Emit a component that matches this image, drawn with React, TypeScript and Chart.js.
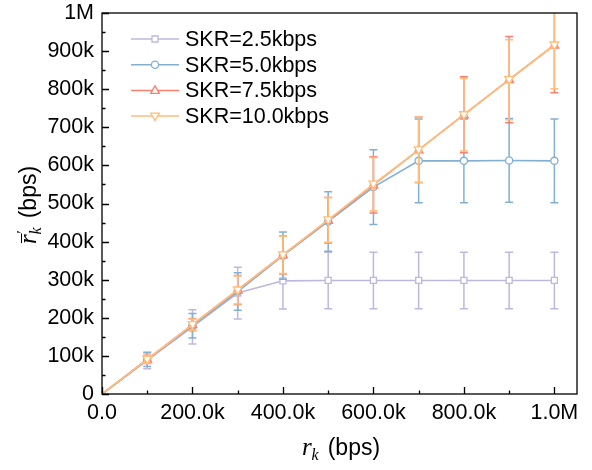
import React, { useEffect, useRef } from "react";
import { Chart, registerables } from "chart.js";

Chart.register(...registerables);

const xValues = [0, 100000, 200000, 300000, 400000, 500000, 600000, 700000, 800000, 900000, 1000000];

const seriesNames = ["SKR=2.5kbps", "SKR=5.0kbps", "SKR=7.5kbps", "SKR=10.0kbps"];
const seriesColors = ["#BEB8DC", "#82B0D2", "#FA7F6F", "#FFBE7A"];
const seriesMarkers = ["square", "circle", "triangle", "triangleDown"];

const skr25 = [0, 88000, 176000, 265000, 297000, 298000, 298000, 298000, 298000, 298000, 298000];
const skr25Err = [0, 22000, 45000, 68000, 74000, 74000, 74000, 74000, 74000, 74000, 74000];
const skr50 = [0, 90000, 179000, 269000, 363000, 453000, 543000, 612000, 612000, 613000, 612000];
const skr50Err = [0, 18000, 32000, 49000, 62000, 78000, 98000, 110000, 110000, 110000, 110000];
const skr75 = [0, 91000, 182000, 273000, 365000, 456000, 549000, 641000, 733000, 825000, 916000];
const skr75Err = [0, 11000, 16000, 38000, 50000, 60000, 74000, 86000, 100000, 113000, 125000];
const skr10 = [0, 91000, 182000, 273000, 365000, 457000, 551000, 641000, 733000, 825000, 916000];
const skr10Err = [0, 10000, 15000, 37000, 49000, 59000, 70000, 86000, 95000, 105000, 115000];

const seriesValues = [skr25, skr50, skr75, skr10];
const seriesErrors = [skr25Err, skr50Err, skr75Err, skr10Err];

const xTickValues = [0, 200000, 400000, 600000, 800000, 1000000];
const xTickLabels = ["0.0", "200.0k", "400.0k", "600.0k", "800.0k", "1.0M"];
const yTickValues = [0, 100000, 200000, 300000, 400000, 500000, 600000, 700000, 800000, 900000, 1000000];
const yTickLabels = ["0", "100k", "200k", "300k", "400k", "500k", "600k", "700k", "800k", "900k", "1M"];

const SANS = "'Liberation Sans', Arial, sans-serif";
const SERIF = "'Liberation Serif', 'Times New Roman', serif";

function drawMarker(ctx: CanvasRenderingContext2D, kind: string, x: number, y: number, color: string) {
  ctx.save();
  ctx.fillStyle = "#ffffff";
  ctx.strokeStyle = color;
  ctx.lineWidth = 1.3;
  ctx.beginPath();
  if (kind === "square") {
    ctx.rect(x - 3, y - 3, 6, 6);
  } else if (kind === "circle") {
    ctx.arc(x, y, 3.6, 0, Math.PI * 2);
  } else if (kind === "triangle") {
    ctx.moveTo(x, y - 4.5);
    ctx.lineTo(x + 4.3, y + 3);
    ctx.lineTo(x - 4.3, y + 3);
    ctx.closePath();
  } else {
    ctx.moveTo(x, y + 4.5);
    ctx.lineTo(x + 4.3, y - 3);
    ctx.lineTo(x - 4.3, y - 3);
    ctx.closePath();
  }
  ctx.fill();
  ctx.stroke();
  ctx.restore();
}

const errorBarPlugin = {
  id: "errorBars",
  beforeDatasetDraw(chart: any, args: any) {
    const i = args.index;
    const vals = seriesValues[i];
    const errs = seriesErrors[i];
    const { ctx, chartArea } = chart;
    const xs = chart.scales.x;
    const ys = chart.scales.y;
    ctx.save();
    ctx.beginPath();
    ctx.rect(chartArea.left, chartArea.top, chartArea.right - chartArea.left, chartArea.bottom - chartArea.top);
    ctx.clip();
    ctx.strokeStyle = seriesColors[i];
    ctx.lineWidth = 1.5;
    xValues.forEach((xv, j) => {
      if (errs[j] <= 0) return;
      const px = xs.getPixelForValue(xv);
      const top = ys.getPixelForValue(vals[j] + errs[j]);
      const bot = ys.getPixelForValue(vals[j] - errs[j]);
      ctx.beginPath();
      ctx.moveTo(px, top);
      ctx.lineTo(px, bot);
      ctx.moveTo(px - 4, top);
      ctx.lineTo(px + 4, top);
      ctx.moveTo(px - 4, bot);
      ctx.lineTo(px + 4, bot);
      ctx.stroke();
    });
    ctx.restore();
  },
};

const markerPlugin = {
  id: "markers",
  afterDatasetDraw(chart: any, args: any) {
    const i = args.index;
    const vals = seriesValues[i];
    const { ctx, chartArea } = chart;
    const xs = chart.scales.x;
    const ys = chart.scales.y;
    ctx.save();
    ctx.beginPath();
    ctx.rect(chartArea.left, chartArea.top, chartArea.right - chartArea.left, chartArea.bottom - chartArea.top);
    ctx.clip();
    xValues.forEach((xv, j) => {
      if (j === 0) return;
      drawMarker(ctx, seriesMarkers[i], xs.getPixelForValue(xv), ys.getPixelForValue(vals[j]), seriesColors[i]);
    });
    ctx.restore();
  },
};

const framePlugin = {
  id: "frame",
  afterDraw(chart: any) {
    const { ctx, chartArea } = chart;
    const xs = chart.scales.x;
    const ys = chart.scales.y;
    const { left, right, top, bottom } = chartArea;
    ctx.save();
    ctx.strokeStyle = "#000000";
    ctx.lineWidth = 1.3;
    ctx.strokeRect(left, top, right - left, bottom - top);
    ctx.beginPath();
    for (let v = 0; v <= 1000000; v += 100000) {
      const px = Math.round(xs.getPixelForValue(v)) + 0.5;
      const len = v % 200000 === 0 ? 7 : 3.5;
      ctx.moveTo(px, bottom);
      ctx.lineTo(px, bottom - len);
    }
    for (let v = 0; v <= 1000000; v += 50000) {
      const py = Math.round(ys.getPixelForValue(v)) + 0.5;
      const len = v % 100000 === 0 ? 7 : 3.5;
      ctx.moveTo(left, py);
      ctx.lineTo(left + len, py);
    }
    ctx.stroke();

    // legend
    const lx0 = 131;
    const lx1 = 179;
    seriesNames.forEach((name, i) => {
      const y = 39 + i * 25.7;
      ctx.strokeStyle = seriesColors[i];
      ctx.lineWidth = 1.5;
      ctx.beginPath();
      ctx.moveTo(lx0, y);
      ctx.lineTo(lx1, y);
      ctx.stroke();
      drawMarker(ctx, seriesMarkers[i], (lx0 + lx1) / 2, y, seriesColors[i]);
      ctx.fillStyle = "#000000";
      ctx.font = `21.5px ${SANS}`;
      ctx.textAlign = "left";
      ctx.textBaseline = "middle";
      ctx.fillText(name, 185, y + 1);
    });

    const drawTitle = (withBar: boolean) => {
      ctx.textAlign = "left";
      ctx.textBaseline = "alphabetic";
      ctx.fillStyle = "#000000";
      const rFont = `italic 25px ${SERIF}`;
      const kFont = `italic 16px ${SERIF}`;
      const bFont = `23px ${SANS}`;
      ctx.font = rFont;
      const rW = ctx.measureText("r").width;
      ctx.font = kFont;
      const kW = ctx.measureText("k").width;
      ctx.font = bFont;
      const bW = ctx.measureText("(bps)").width;
      const gap = 7;
      const total = rW + kW + 2 + gap + bW;
      let x = -total / 2;
      ctx.font = rFont;
      ctx.fillText("r", x, 0);
      if (withBar) {
        ctx.strokeStyle = "#000";
        ctx.lineWidth = 1;
        ctx.beginPath();
        ctx.moveTo(x + 1, -14.5);
        ctx.lineTo(x + rW + 1, -14.5);
        ctx.stroke();
        ctx.font = `italic 15px ${SERIF}`;
        ctx.fillText("\u2032", x + rW, -9);
      }
      x += rW;
      ctx.font = kFont;
      ctx.fillText("k", x, 5);
      x += kW + 2 + gap;
      ctx.font = bFont;
      ctx.fillText("(bps)", x, 0);
    };

    ctx.save();
    ctx.translate(341, 455);
    drawTitle(false);
    ctx.restore();

    ctx.save();
    ctx.translate(36, 205);
    ctx.rotate(-Math.PI / 2);
    drawTitle(true);
    ctx.restore();

    ctx.restore();
  },
};

export default function App() {
  const canvasRef = useRef<HTMLCanvasElement | null>(null);

  useEffect(() => {
    const canvas = canvasRef.current;
    if (!canvas) return;
    const order = [3, 2, 1, 0];
    const chart = new Chart(canvas, {
      type: "line",
      data: {
        datasets: seriesNames.map((name, i) => ({
          label: name,
          data: xValues.map((xv, j) => ({ x: xv, y: seriesValues[i][j] })),
          borderColor: seriesColors[i],
          backgroundColor: seriesColors[i],
          borderWidth: 1.6,
          pointRadius: 0,
          pointHoverRadius: 0,
          tension: 0,
          order: order[i],
        })),
      },
      options: {
        animation: false,
        responsive: false,
        devicePixelRatio: 1,
        layout: { autoPadding: false, padding: { top: 13, right: 15, left: 0, bottom: 0 } },
        plugins: {
          legend: { display: false },
          tooltip: { enabled: false },
        },
        scales: {
          x: {
            type: "linear",
            min: 0,
            max: 1050000,
            grid: { display: false, drawTicks: false },
            border: { display: false },
            afterBuildTicks: (scale: any) => {
              scale.ticks = xTickValues.map((v) => ({ value: v }));
            },
            afterFit: (scale: any) => {
              scale.height = 76;
            },
            ticks: {
              color: "#000000",
              font: { family: SANS, size: 21.5 },
              padding: 6,
              maxRotation: 0,
              autoSkip: false,
              callback: (value: any) => {
                const idx = xTickValues.indexOf(Number(value));
                return idx >= 0 ? xTickLabels[idx] : "";
              },
            },
          },
          y: {
            type: "linear",
            min: 0,
            max: 1000000,
            grid: { display: false, drawTicks: false },
            border: { display: false },
            afterBuildTicks: (scale: any) => {
              scale.ticks = yTickValues.map((v) => ({ value: v }));
            },
            afterFit: (scale: any) => {
              scale.width = 102;
              scale.paddingTop = 0;
              scale.paddingBottom = 0;
            },
            ticks: {
              color: "#000000",
              font: { family: SANS, size: 21.5, lineHeight: 1 },
              padding: 8,
              autoSkip: false,
              callback: (value: any) => {
                const idx = yTickValues.indexOf(Number(value));
                return idx >= 0 ? yTickLabels[idx] : "";
              },
            },
          },
        },
      },
      plugins: [errorBarPlugin, markerPlugin, framePlugin],
    });
    return () => chart.destroy();
  }, []);

  return (
    <div style={{ position: "fixed", left: 0, top: 0, width: 592, height: 470, background: "#ffffff" }}>
      <canvas ref={canvasRef} width={592} height={470} style={{ width: 592, height: 470, display: "block" }} />
    </div>
  );
}
